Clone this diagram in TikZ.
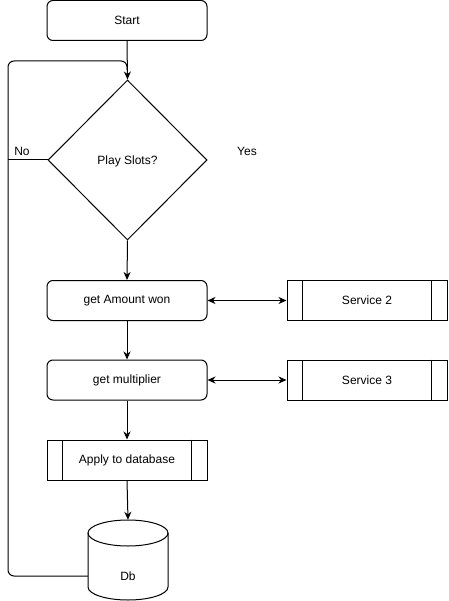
\documentclass[tikz,border=0pt]{standalone}
\usepackage{fontspec}
\setmainfont{Liberation Sans}
\usetikzlibrary{arrows.meta,shapes.geometric}
\begin{document}
\begin{tikzpicture}[x=1pt,y=-1pt,
  every node/.style={font=\fontsize{12}{14}\selectfont},
  box/.style={draw, line width=1pt, minimum width=160pt, minimum height=40pt, inner sep=0pt},
  rbox/.style={box, rounded corners=6pt},
  conn/.style={line width=1pt, -{Stealth[length=8pt,width=7pt,inset=2.5pt]}},
  biconn/.style={line width=1pt, {Stealth[length=8pt,width=7pt,inset=2.5pt]}-{Stealth[length=8pt,width=7pt,inset=2.5pt]}},
  plain/.style={line width=1pt}
]
\useasboundingbox (0,0) rectangle (448,601);

\node[rbox] (start) at (127,20.5) {Start};
\node[draw, line width=1pt, diamond, aspect=1, minimum width=159pt, minimum height=160pt, inner sep=0pt] (dec) at (127.5,160) {};
\node (declabel) at (127.5,161) {Play Slots?};
\node (no) at (22,151) {No};
\node (yes) at (247,151) {Yes};

\node[rbox] (amt) at (127,300.5) {get Amount won};
\node[rbox] (mult) at (127,380) {get multiplier};
\node[box] (apply) at (127,460) {Apply to database};
\node[box] (s2) at (367,300.5) {Service 2};
\node[box] (s3) at (367,380) {Service 3};

\foreach \n in {apply,s2,s3}{
  \draw[plain] ([xshift=16pt]\n.north west) -- ([xshift=16pt]\n.south west);
  \draw[plain] ([xshift=-16pt]\n.north east) -- ([xshift=-16pt]\n.south east);
}

% cylinder
\node[minimum width=80pt, minimum height=80pt, inner sep=0pt] (db) at (128,560) {};
\draw[plain, fill=white] (88,533) -- (88,587)
   arc[start angle=180, end angle=360, x radius=40pt, y radius=13pt] -- (168,533);
\draw[plain] (128,533) ellipse[x radius=40pt, y radius=13pt];
\node (dblabel) at (128,576) {Db};

% connectors
\draw[conn] (start.south) -- (dec.north);
\draw[conn] (dec.south) -- (amt.north);
\draw[conn] (amt.south) -- (mult.north);
\draw[conn] (mult.south) -- (apply.north);
\draw[conn] (apply.south) -- (db.north);
\draw[biconn] (amt.east) -- (s2.west);
\draw[biconn] (mult.east) -- (s3.west);

\coordinate (dbw) at (dblabel -| db.west);
\draw[plain, rounded corners=6pt] (dbw) -- (8,576) -- (8,61) -- (127,61) -- (127,70);
\draw[plain] (dec.west) -- (8,160);
\end{tikzpicture}
\end{document}
